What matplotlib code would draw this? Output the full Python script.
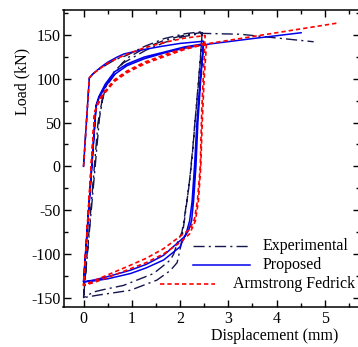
import matplotlib
matplotlib.use("Agg")
import matplotlib.pyplot as plt
from matplotlib.ticker import MultipleLocator

plt.rcParams['font.family'] = ['Liberation Serif', 'DejaVu Serif']
plt.rcParams['axes.unicode_minus'] = False

# ---------------- data ----------------
series_names = ["Experimental", "Proposed", "Armstrong Fedrick"]

exp_disp = [0, 0.12, 0.2, 0.35, 0.64, 0.9, 1.26, 1.67, 2.09, 2.46,
            2.42, 2.36, 2.3, 2.25, 2.18, 2.1, 2.04, 1.94, 1.87, 1.8, 1.45, 0.83, 0.4, 0.21, 0,
            0.3, 0.36, 0.43, 0.6, 0.91, 1.3, 1.67, 2.09, 2.46,
            2.41, 2.34, 2.28, 2.2, 2.12, 2.07, 2.02, 1.94, 1.8, 1.52, 0.97, 0.28, 0,
            0.33, 0.39, 0.46, 0.65, 0.81, 1.3, 1.7, 2.09, 2.46, 3.25, 4.77]
exp_load = [0, 101, 106, 112, 121.5, 127, 137, 146, 151.5, 154,
            120, 80, 45, 10, -25, -55, -75, -88, -100, -107, -122.5, -136, -141, -143.5, -150,
            50, 68, 88, 106, 124, 136, 144, 150, 153,
            115, 70, 30, -15, -50, -70, -90, -110, -119, -130, -141.6, -147.3, -150,
            55, 75, 91, 105, 117.7, 133, 142, 148.5, 152, 151, 142.4]

prop_disp = [0, 0.12, 0.2, 0.35, 0.5, 0.7, 0.84, 1.2, 1.6, 2.0, 2.49,
             2.43, 2.37, 2.33, 2.28, 2.24, 2.18, 2.1, 2.0, 1.66, 1.3, 0.97, 0.5, 0.2, 0,
             0.26, 0.32, 0.45, 0.64, 0.9, 1.26, 1.7, 2.09, 2.49,
             2.42, 2.35, 2.3, 2.25, 2.2, 2.13, 2.0, 1.66, 1.3, 0.97, 0.5, 0.2, 0,
             0.26, 0.32, 0.45, 0.64, 0.9, 1.26, 1.7, 2.09, 2.49, 3.5, 4.51]
prop_load = [0, 101, 106, 113, 119, 125, 128.5, 133, 137, 140.5, 143,
             100, 50, 0, -40, -62, -73, -80, -85, -101.6, -112, -118.7, -126, -130, -132,
             70, 80, 94, 108, 117, 125, 131, 136.5, 140,
             100, 50, 0, -40, -62, -76, -92, -107, -116, -122.5, -128.5, -131, -132,
             68, 78, 91, 105, 115, 123, 130, 135, 139, 146, 152.7]

af_disp = [0, 0.12, 0.2, 0.35, 0.5, 0.84, 1.26, 1.7, 2.09, 2.52,
           2.48, 2.45, 2.42, 2.36, 2.3, 2.2, 2.0, 1.66, 1.3, 0.97, 0.5, 0.2, 0,
           0.23, 0.29, 0.4, 0.64, 0.9, 1.26, 1.7, 2.09, 2.55,
           2.5, 2.46, 2.43, 2.38, 2.32, 2.2, 2.0, 1.66, 1.3, 0.97, 0.5, 0.2, 0,
           0.23, 0.29, 0.4, 0.64, 0.9, 1.26, 1.7, 2.09, 2.55, 5.29]
af_load = [0, 101, 106, 112, 118, 127, 135.5, 142, 146.5, 149.5,
           100, 64, 0, -40, -60, -72, -80, -94, -105, -113, -124, -131, -136,
           62, 72, 83, 99, 109, 119, 128, 135, 141,
           100, 50, 0, -40, -62, -77, -87, -100, -110, -117, -127, -133, -136,
           60, 70, 81, 97, 107, 117, 126, 133.5, 140, 164]

x_ticks = [0, 1, 2, 3, 4, 5]
y_ticks = [-150, -100, -50, 0, 50, 100, 150]

# ---------------- figure ----------------
fig = plt.figure(figsize=(3.58, 3.47), dpi=100)
ax = fig.add_axes([63.5 / 358, 1 - 307 / 347, (359.5 - 63.5) / 358, (307 - 10) / 347])

c_exp = '#16164e'
c_prop = '#0000ee'
c_af = '#ff0000'
ls_exp = (0, (8, 3, 1.5, 3))
ls_af = (0, (2.6, 1.8))

ax.plot(exp_disp, exp_load, color=c_exp, lw=1.0, linestyle=ls_exp)
ax.plot(prop_disp, prop_load, color=c_prop, lw=1.1, linestyle='-')
ax.plot(af_disp, af_load, color=c_af, lw=1.2, linestyle=ls_af)

ax.set_xlim(-0.415, 5.72)
ax.set_ylim(-160.7, 178.7)
ax.set_xticks(x_ticks)
ax.set_yticks(y_ticks)
ax.xaxis.set_minor_locator(MultipleLocator(0.5))
ax.yaxis.set_minor_locator(MultipleLocator(25))
ax.tick_params(which='both', direction='in', top=True, right=True, width=1.0,
               labelsize=11.5, colors='black')
ax.tick_params(which='major', length=4.8, pad=3)
ax.tick_params(which='minor', length=2.6)
ax.tick_params(axis='y', which='major', pad=2)
for s in ax.spines.values():
    s.set_linewidth(1.1)

ax.set_xlabel('Displacement (mm)', fontsize=11.5)
ax.set_ylabel('Load (kN)', fontsize=11.5)
ax.xaxis.set_label_coords((274.5 - 63.5) / 296, -(336 - 307) / 297, transform=ax.transAxes)
ax.yaxis.set_label_coords(-(63.5 - 22.5) / 296, (307 - 81) / 297, transform=ax.transAxes)
ax.xaxis.label.set_va('center')
ax.yaxis.label.set_va('center')

# manual legend
leg_colors = [c_exp, c_prop, c_af]
leg_styles = [ls_exp, '-', ls_af]
leg_lw = [1.0, 1.1, 1.2]
leg_y = [(307 - 246) / 297, (307 - 265) / 297, (307 - 284) / 297]
leg_x0 = [(193 - 63.5) / 296, (193 - 63.5) / 296, (160 - 63.5) / 296]
leg_x1 = [(250 - 63.5) / 296, (250 - 63.5) / 296, (215 - 63.5) / 296]
leg_tx = [(263 - 63.5) / 296, (263 - 63.5) / 296, (233 - 63.5) / 296]
for name, c, ls, lw, yy, x0, x1, tx in zip(series_names, leg_colors, leg_styles, leg_lw,
                                            leg_y, leg_x0, leg_x1, leg_tx):
    ax.plot([x0, x1], [yy, yy], color=c, linestyle=ls, lw=lw, transform=ax.transAxes)
    ax.text(tx, yy, name, transform=ax.transAxes, ha='left', va='center',
            fontsize=11.5)

fig.savefig('out.png', dpi=100)
